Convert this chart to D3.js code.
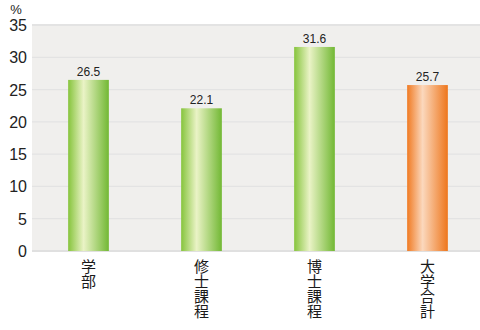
<!DOCTYPE html>
<html>
<head>
<meta charset="utf-8">
<script src="https://cdn.jsdelivr.net/npm/d3@7"></script>
<style>
  body { margin: 0; background: #fff; }
  svg { display: block; }
</style>
</head>
<body>
<svg id="chart" width="480" height="330"></svg>
<script>
// data
const categories = ["学部", "修士課程", "博士課程", "大学合計"];
const values = [26.5, 22.1, 31.6, 25.7];
const isTotal = [false, false, false, true];
const yTicks = [0, 5, 10, 15, 20, 25, 30, 35];

const svg = d3.select("#chart");

const x = d3.scaleBand()
  .domain(categories)
  .range([32, 484])
  .paddingInner(0.64)
  .paddingOuter(0.32);

const y = d3.scaleLinear()
  .domain([0, 35])
  .range([251, 25]);

// gradients
const defs = svg.append("defs");
function grad(id, edgeL, mid, edgeR) {
  const g = defs.append("linearGradient").attr("id", id)
    .attr("x1", "0%").attr("x2", "100%").attr("y1", "0%").attr("y2", "0%");
  g.append("stop").attr("offset", "0%").attr("stop-color", edgeL);
  g.append("stop").attr("offset", "38%").attr("stop-color", mid);
  g.append("stop").attr("offset", "100%").attr("stop-color", edgeR);
}
grad("gGreen", "#86c43c", "#eaf3c6", "#72b834");
grad("gOrange", "#f07a22", "#fbd8bd", "#ee761c");

// plot background
svg.append("rect")
  .attr("x", 32).attr("y", y(35))
  .attr("width", 480 - 32).attr("height", y(0) - y(35))
  .attr("fill", "#f0efed");

// gridlines
svg.append("g")
  .selectAll("line")
  .data(yTicks)
  .enter()
  .append("line")
  .attr("x1", 32).attr("x2", 480)
  .attr("y1", d => y(d)).attr("y2", d => y(d))
  .attr("stroke", d => d === 0 ? "#e0e0e0" : "#e3e3e3")
  .attr("stroke-width", d => (d === 0 || d === 35) ? 2 : 1.2);

// y axis labels
svg.append("g")
  .selectAll("text")
  .data(yTicks)
  .enter()
  .append("text")
  .attr("x", 27)
  .attr("y", d => y(d) + 6)
  .attr("text-anchor", "end")
  .attr("font-family", "Liberation Sans, Arial, sans-serif")
  .attr("font-size", 16)
  .attr("fill", "#222")
  .text(d => d);

svg.append("text")
  .attr("x", 16).attr("y", 14)
  .attr("text-anchor", "middle")
  .attr("font-family", "Liberation Sans, Arial, sans-serif")
  .attr("font-size", 13)
  .attr("fill", "#222")
  .text("%");

// bars
const data = categories.map((c, i) => ({ cat: c, value: values[i], total: isTotal[i] }));

svg.append("g")
  .selectAll(".bar")
  .data(data)
  .enter()
  .append("rect")
  .classed("bar", true)
  .attr("x", d => x(d.cat))
  .attr("y", d => y(d.value))
  .attr("width", x.bandwidth())
  .attr("height", d => y(0) - y(d.value))
  .attr("fill", d => d.total ? "url(#gOrange)" : "url(#gGreen)");

// value labels
svg.append("g")
  .selectAll("text")
  .data(data)
  .enter()
  .append("text")
  .attr("x", d => x(d.cat) + x.bandwidth() / 2)
  .attr("y", d => y(d.value) - 4)
  .attr("text-anchor", "middle")
  .attr("font-family", "Liberation Sans, Arial, sans-serif")
  .attr("font-size", 12)
  .attr("fill", "#222")
  .text(d => d.value.toFixed(1));

// vertical category labels
svg.append("g")
  .selectAll("text")
  .data(data)
  .enter()
  .append("text")
  .attr("x", d => x(d.cat) + x.bandwidth() / 2)
  .attr("y", 259)
  .style("writing-mode", "vertical-rl")
  .attr("font-family", "Noto Sans CJK JP, sans-serif")
  .attr("font-size", 15)
  .attr("fill", "#1a1a1a")
  .text(d => d.cat);
</script>
</body>
</html>
